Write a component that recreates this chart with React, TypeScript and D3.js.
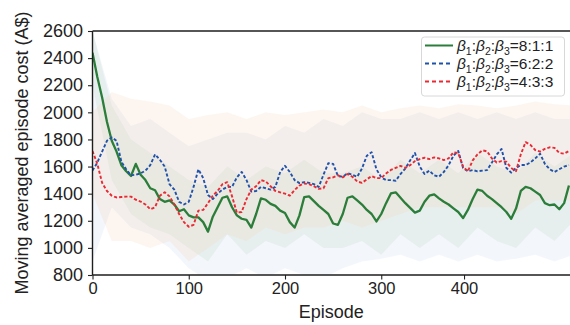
import React, { useEffect, useRef } from 'react';
import * as d3 from 'd3';

// episodes are sampled every STEP (0..495)
const STEP = 5;

const green811 = [
  2440, 2260, 2110, 1930, 1790, 1710, 1610, 1565, 1530, 1620,
  1540, 1500, 1440, 1425, 1360, 1340, 1350, 1320, 1270, 1285,
  1240, 1225, 1225, 1190, 1120, 1230, 1300, 1370, 1380, 1300,
  1240, 1215, 1206, 1150, 1250, 1365, 1355, 1325, 1310, 1275,
  1258, 1190, 1150, 1240, 1375, 1380, 1345, 1310, 1280, 1250,
  1180, 1170, 1250, 1370, 1380, 1350, 1320, 1280, 1250, 1195,
  1250, 1330, 1402, 1410, 1370, 1330, 1295, 1260, 1275, 1340,
  1385, 1395, 1365, 1340, 1320, 1292, 1265, 1220, 1280, 1360,
  1430, 1420, 1385, 1360, 1330, 1300, 1265, 1215, 1290, 1420,
  1450, 1440, 1415, 1390, 1330, 1315, 1320, 1285, 1330, 1460,
];

const blue622 = [
  1570, 1630, 1710, 1790, 1815, 1790, 1636, 1580, 1535, 1540,
  1550, 1570, 1610, 1690, 1650, 1600, 1470, 1430, 1340, 1320,
  1340, 1450, 1580, 1515, 1390, 1360, 1400, 1430, 1450, 1450,
  1520, 1560, 1500, 1415, 1420, 1450, 1440, 1430, 1450, 1560,
  1605, 1560, 1500, 1478, 1485, 1480, 1470, 1450, 1540, 1625,
  1620, 1530, 1525, 1550, 1540, 1525, 1586, 1680, 1705, 1580,
  1520, 1500, 1500, 1495, 1545, 1585, 1645, 1700, 1600, 1545,
  1570, 1535, 1525, 1560, 1610, 1680, 1715, 1590, 1565, 1574,
  1565, 1570, 1574, 1630, 1690, 1730, 1590, 1555, 1590, 1611,
  1611, 1630, 1660, 1695, 1620, 1580, 1560, 1580, 1600, 1611,
];

const red433 = [
  1715, 1620, 1480, 1420, 1385, 1372, 1375, 1378, 1378, 1355,
  1342, 1320, 1285, 1300, 1385, 1410, 1380, 1320, 1250, 1190,
  1156, 1170, 1275, 1280, 1330, 1385, 1420, 1470, 1485, 1380,
  1260, 1265, 1360, 1430, 1455, 1500, 1490, 1455, 1420, 1410,
  1400, 1385, 1427, 1460, 1475, 1470, 1455, 1435, 1440, 1515,
  1520, 1535, 1520, 1545, 1525, 1490, 1480, 1505, 1530, 1515,
  1515, 1548, 1575, 1590, 1605, 1590, 1610, 1640, 1655, 1665,
  1655, 1668, 1660, 1648, 1660, 1705, 1700, 1600, 1565, 1645,
  1690, 1720, 1712, 1660, 1630, 1640, 1635, 1590, 1565, 1690,
  1780, 1760, 1722, 1710, 1730, 1742, 1738, 1700, 1695, 1715,
];

// shaded spread, sampled every BAND_STEP (0..500)
const BAND_STEP = 20;
const greenUpper = [2600, 2050, 1800, 1700, 1600, 1500, 1450, 1600, 1500, 1600, 1550, 1650, 1550, 1550, 1600, 1500, 1650, 1550, 1650, 1550, 1700, 1600, 1550, 1700, 1600, 1700];
const greenLower = [2200, 1500, 1250, 1150, 1100, 1000, 900, 1100, 950, 1050, 1000, 1100, 1000, 1000, 1050, 950, 1100, 1000, 1100, 1000, 1150, 1050, 1000, 1150, 1050, 1200];
const blueUpper = [2600, 2100, 1900, 1950, 1850, 1750, 1800, 1850, 1850, 1800, 1900, 1850, 1950, 1900, 2000, 1950, 1950, 2000, 1950, 2000, 1950, 2000, 1950, 2000, 1950, 1950];
const blueLower = [900, 1300, 1150, 1100, 1000, 850, 760, 780, 850, 780, 850, 800, 780, 850, 900, 920, 950, 900, 950, 900, 950, 900, 920, 950, 900, 950];
const redUpper = [2000, 2150, 2100, 2080, 2050, 1950, 1980, 2000, 1950, 2000, 1980, 2000, 2020, 2000, 2050, 2000, 2030, 2050, 2030, 2060, 2050, 2030, 2050, 2080, 2060, 2050];
const redLower = [1400, 1050, 1050, 1000, 1050, 900, 1000, 1100, 1050, 1150, 1100, 1150, 1150, 1200, 1150, 1200, 1250, 1300, 1300, 1300, 1300, 1300, 1250, 1350, 1350, 1350];

const xTickValues = [0, 100, 200, 300, 386];
const xTickLabels = ['0', '100', '200', '300', '400'];
const yTickValues = [800, 1000, 1200, 1400, 1600, 1800, 2000, 2200, 2400, 2600];

const legendRatios = ['8:1:1', '6:2:2', '4:3:3'];

const W = 570;
const H = 325;
const FONT = "'Liberation Sans', Arial, Helvetica, sans-serif";

const series = [
  { values: green811, upper: greenUpper, lower: greenLower, color: '#2b7d3a', band: '#a9cfa0', dash: null, width: 2.3 },
  { values: blue622, upper: blueUpper, lower: blueLower, color: '#2152aa', band: '#b4c8e8', dash: '3.2,2', width: 1.9 },
  { values: red433, upper: redUpper, lower: redLower, color: '#ea2a33', band: '#f3c4a4', dash: '3.2,2', width: 1.9 },
];

export default function App() {
  const svgRef = useRef<SVGSVGElement>(null);

  useEffect(() => {
    if (!svgRef.current) return;
    const svg = d3.select(svgRef.current);
    svg.selectAll('*').remove();

    const left = 92.5;
    const top = 31;
    const bottom = 275;

    const x = d3.scaleLinear().domain([0, 500]).range([left, left + 481.25]);
    const y = d3.scaleLinear().domain([800, 2600]).range([bottom, top]);

    svg
      .append('defs')
      .append('clipPath')
      .attr('id', 'plot-clip')
      .append('rect')
      .attr('x', left)
      .attr('y', top)
      .attr('width', W - left)
      .attr('height', bottom - top);

    const plot = svg.append('g').attr('clip-path', 'url(#plot-clip)');

    // bands
    series.forEach((s) => {
      const area = d3
        .area<number>()
        .x((_, i) => x(i * BAND_STEP))
        .y0((_, i) => y(s.lower[i]))
        .y1((d) => y(d));
      plot
        .append('path')
        .datum(s.upper)
        .attr('d', area)
        .attr('fill', s.band)
        .attr('fill-opacity', 0.16)
        .attr('stroke', 'none');
    });

    // lines
    series.forEach((s) => {
      const line = d3
        .line<number>()
        .x((_, i) => x(i * STEP))
        .y((d) => y(d));
      plot
        .append('path')
        .datum(s.values)
        .attr('d', line)
        .attr('fill', 'none')
        .attr('stroke', s.color)
        .attr('stroke-width', s.width)
        .attr('stroke-dasharray', s.dash)
        .attr('stroke-linejoin', 'round');
    });

    // y axis
    const yAxis = svg
      .append('g')
      .attr('transform', `translate(${left},0)`)
      .call(
        d3
          .axisLeft(y)
          .tickValues(yTickValues)
          .tickFormat(d3.format('d'))
          .tickSize(4.5)
          .tickPadding(5)
          .tickSizeOuter(0)
      );
    yAxis.select('.domain').remove();
    yAxis.selectAll('line').attr('stroke', '#222').attr('stroke-width', 1.1);
    yAxis
      .selectAll('text')
      .attr('fill', '#222')
      .style('font-family', FONT)
      .style('font-size', '18px');

    // x axis
    const xAxis = svg
      .append('g')
      .attr('transform', `translate(0,${bottom})`)
      .call(
        d3
          .axisBottom(x)
          .tickValues(xTickValues)
          .tickFormat((_, i) => xTickLabels[i])
          .tickSize(4.5)
          .tickPadding(3)
          .tickSizeOuter(0)
      );
    xAxis.select('.domain').remove();
    xAxis.selectAll('line').attr('stroke', '#222').attr('stroke-width', 1.1);
    xAxis
      .selectAll('text')
      .attr('fill', '#222')
      .style('font-family', FONT)
      .style('font-size', '16.5px');

    // spines
    const spine = svg.append('g').attr('stroke', '#1e1e1e').attr('stroke-width', 1.4);
    spine.append('line').attr('x1', left).attr('x2', left).attr('y1', top).attr('y2', bottom);
    spine.append('line').attr('x1', left).attr('x2', W).attr('y1', bottom).attr('y2', bottom);
    spine.append('line').attr('x1', left).attr('x2', W).attr('y1', top).attr('y2', top);

    // axis labels
    svg
      .append('text')
      .attr('x', (left + W) / 2)
      .attr('y', 318)
      .attr('text-anchor', 'middle')
      .attr('fill', '#222')
      .style('font-family', FONT)
      .style('font-size', '18px')
      .text('Episode');

    svg
      .append('text')
      .attr('transform', `translate(28,${(top + bottom) / 2}) rotate(-90)`)
      .attr('text-anchor', 'middle')
      .attr('fill', '#222')
      .style('font-family', FONT)
      .style('font-size', '18px')
      .text('Moving averaged episode cost (A$)');

    // legend
    const lg = svg.append('g');
    lg.append('rect')
      .attr('x', 421.5)
      .attr('y', 37)
      .attr('width', 143)
      .attr('height', 59)
      .attr('rx', 3)
      .attr('fill', '#fff')
      .attr('fill-opacity', 0.85)
      .attr('stroke', '#d8d8d8')
      .attr('stroke-width', 1);

    series.forEach((s, i) => {
      const cy = 45.5 + i * 18;
      lg.append('line')
        .attr('x1', 425)
        .attr('x2', 453)
        .attr('y1', cy)
        .attr('y2', cy)
        .attr('stroke', s.color)
        .attr('stroke-width', s.dash ? 1.9 : 2)
        .attr('stroke-dasharray', s.dash ? '4,3' : null);

      const t = lg
        .append('text')
        .attr('x', 457)
        .attr('y', cy + 5.5)
        .attr('fill', '#222')
        .style('font-family', FONT)
        .style('font-size', '15.5px');
      [1, 2, 3].forEach((k) => {
        t.append('tspan').style('font-style', 'italic').text('β');
        t.append('tspan').attr('dy', 4).style('font-size', '10.5px').text(String(k));
        t.append('tspan').attr('dy', -4).text(k < 3 ? ':' : '=' + legendRatios[i]);
      });
    });
  }, []);

  return (
    <svg
      ref={svgRef}
      width={W}
      height={H}
      style={{ position: 'absolute', left: 0, top: 0, background: '#fff' }}
    />
  );
}
